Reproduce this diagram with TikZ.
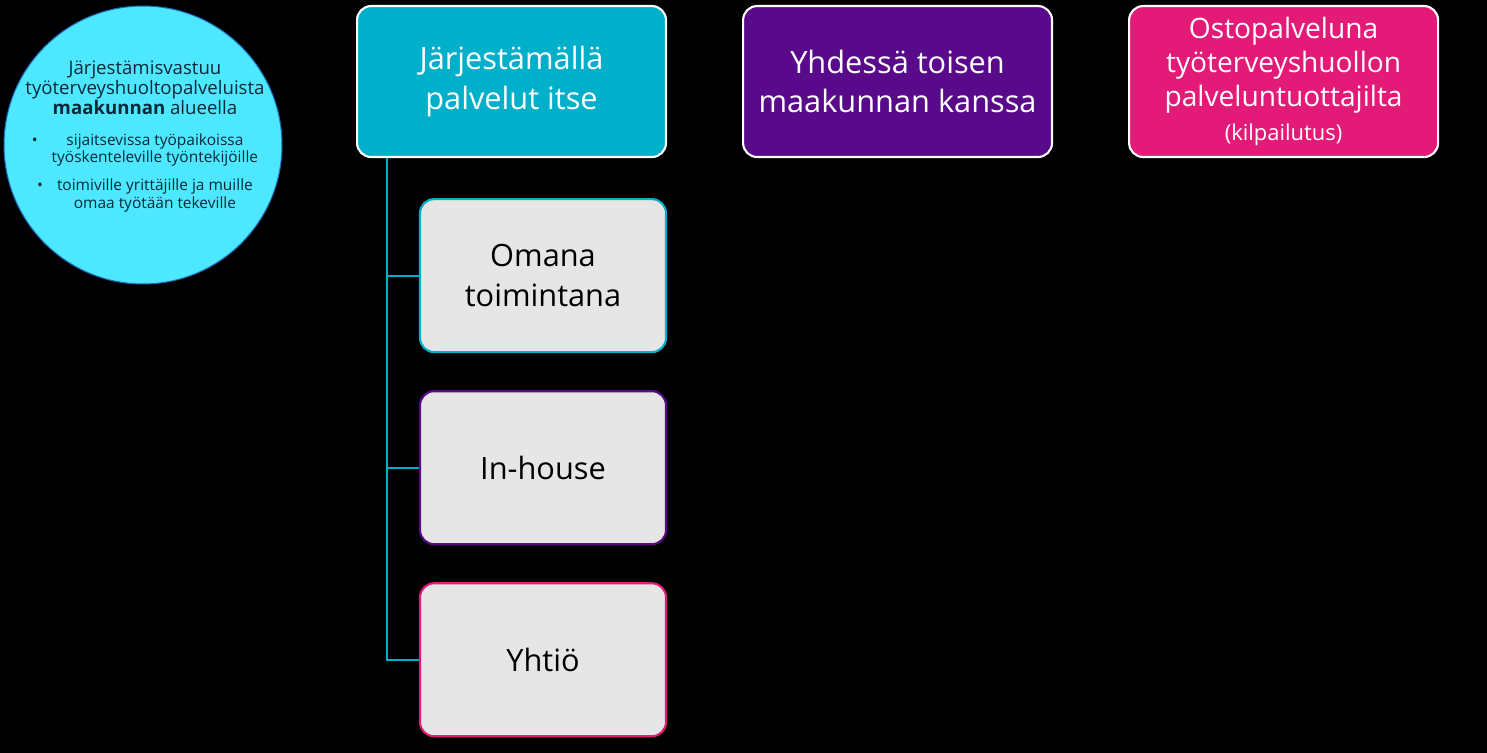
\documentclass[tikz,border=0pt]{standalone}
\usepackage{fontspec}
\setmainfont{Open Sans}
\usetikzlibrary{positioning}

\definecolor{teal1}{RGB}{0,175,202}
\definecolor{purple1}{RGB}{88,10,138}
\definecolor{pink1}{RGB}{228,26,120}
\definecolor{lgray}{RGB}{230,230,230}
\definecolor{skyc}{RGB}{77,232,255}
\definecolor{darktxt}{RGB}{10,40,55}
\definecolor{rimc}{RGB}{30,110,190}

\newcommand{\bulletitem}[2]{%
  \begin{tabular}{@{}c@{\hspace{8pt}}c@{}}
    \textbullet & #1\\
                & #2
  \end{tabular}}

\begin{document}
\begin{tikzpicture}[
      x=0.02cm, y=-0.02cm,
      node distance=0.74cm and 1.5cm,
      topbox/.style={draw=white, line width=1.2pt, rounded corners=8pt, align=center,
                     text=white, minimum width=6.18cm, minimum height=3.02cm,
                     font=\fontsize{17.5}{22.5}\selectfont},
      subbox/.style={fill=lgray, line width=1.2pt, rounded corners=8pt, align=center,
                     minimum width=4.92cm, minimum height=3.06cm,
                     font=\fontsize{17.5}{22.5}\selectfont},
      conn/.style={draw=teal1, line width=1.2pt}
    ]
    \fill[black] (0,0) rectangle (1487,753);
    \useasboundingbox (0,0) rectangle (1487,753);

    % responsibility circle
    \node[circle, fill=skyc, draw=rimc, line width=0.6pt, minimum size=5.56cm] (vastuu) at (143,145) {};
    \node[anchor=north, align=center, text=darktxt, font=\fontsize{10.6}{11.6}\selectfont,
          inner sep=0pt] (vastuutxt) at (145,60)
      {Järjestämisvastuu\\työterveyshuoltopalveluista\\\textbf{maakunnan} alueella};
    \node[below=10pt of vastuutxt, inner sep=0pt, text=darktxt,
          font=\fontsize{8.8}{9.8}\selectfont] (bullet1)
      {\bulletitem{sijaitsevissa työpaikoissa}{työskenteleville työntekijöille}};
    \node[below=6pt of bullet1, inner sep=0pt, text=darktxt,
          font=\fontsize{8.8}{9.8}\selectfont] (bullet2)
      {\bulletitem{toimiville yrittäjille ja muille}{omaa työtään tekeville}};

    % top row
    \node[topbox, fill=teal1, anchor=north west] (itse) at (356,5) {Järjestämällä\\palvelut itse};
    \node[topbox, fill=purple1, right=of itse] (yhdessa) {Yhdessä toisen\\maakunnan kanssa};
    \node[topbox, fill=pink1, right=of yhdessa, font=\fontsize{16}{19.5}\selectfont] (osto)
      {Ostopalveluna\\työterveyshuollon\\palveluntuottajilta\\{\fontsize{12.5}{15}\selectfont(kilpailutus)}};

    % options under the first box
    \node[subbox, draw=teal1, below left=0.8cm and 0cm of itse.south east] (oma) {Omana\\toimintana};
    \node[subbox, draw=purple1, below=of oma] (inhouse) {In-house};
    \node[subbox, draw=pink1, below=of inhouse] (yhtio) {Yhtiö};

    \coordinate (trunk) at ([xshift=0.62cm]itse.south west);
    \draw[conn] (trunk) |- (oma.west);
    \draw[conn] (trunk) |- (inhouse.west);
    \draw[conn] (trunk) |- (yhtio.west);
  \end{tikzpicture}
\end{document}
